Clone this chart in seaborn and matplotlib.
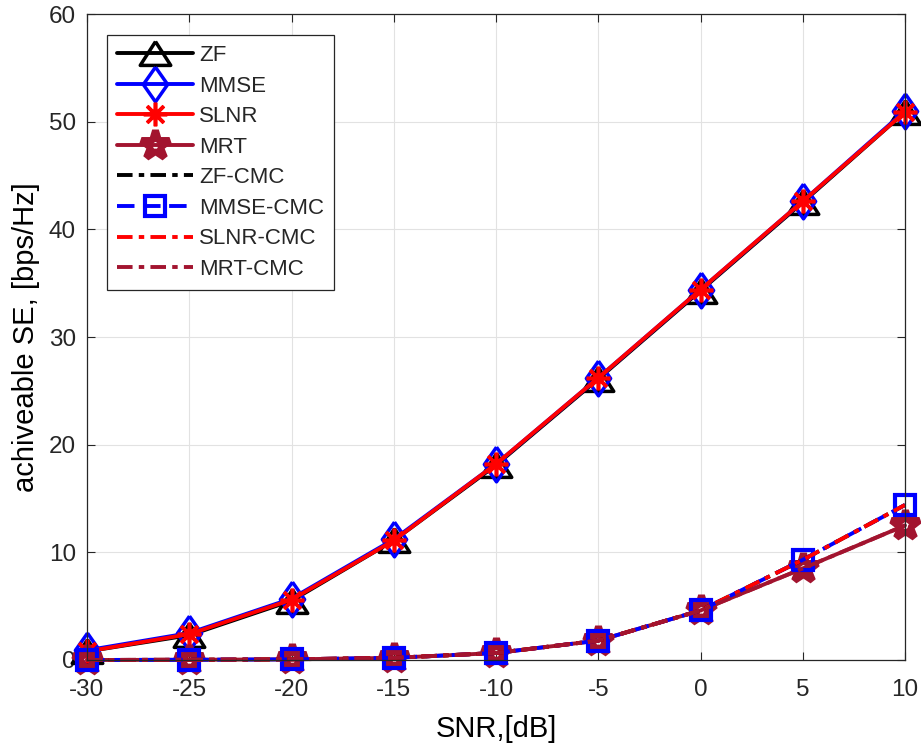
import matplotlib
matplotlib.use("Agg")
import matplotlib.pyplot as plt
import seaborn as sns

snr = [-30, -25, -20, -15, -10, -5, 0, 5, 10]

# Spectral efficiency, full CSI precoders
zf = [0.8, 2.3, 5.5, 11.1, 18.1, 26.1, 34.3, 42.5, 50.9]
mmse = [0.9, 2.5, 5.7, 11.2, 18.2, 26.2, 34.4, 42.6, 51.0]
slnr = [0.8, 2.4, 5.6, 11.1, 18.2, 26.2, 34.4, 42.6, 50.9]
mrt = [0.0, 0.02, 0.06, 0.2, 0.65, 1.8, 4.6, 8.5, 12.5]

# Spectral efficiency with CMC
zf_cmc = [0.0, 0.02, 0.06, 0.2, 0.65, 1.8, 4.6, 9.3, 14.4]
mmse_cmc = [0.0, 0.02, 0.06, 0.2, 0.65, 1.8, 4.6, 9.3, 14.4]
slnr_cmc = [0.0, 0.02, 0.06, 0.2, 0.65, 1.8, 4.6, 9.3, 14.4]
mrt_cmc = [0.0, 0.02, 0.06, 0.2, 0.65, 1.8, 4.6, 8.5, 12.5]

xticks = [-30, -25, -20, -15, -10, -5, 0, 5, 10]
yticks = [0, 10, 20, 30, 40, 50, 60]

sns.set_theme(style="whitegrid")
plt.rcParams["font.family"] = ["Liberation Sans", "DejaVu Sans"]
plt.rcParams["axes.unicode_minus"] = False

DARKRED = "#A2142F"
LW = 2.8
fig = plt.figure(figsize=(9.21, 7.45), dpi=100)
ax = fig.add_axes([87 / 921, 1 - 660 / 745, (905 - 87) / 921, (660 - 14) / 745])

asterisk = (8, 2, 0)
wide_triangle = [(0, 0.78), (1, -0.78), (-1, -0.78), (0, 0.78)]
tall_diamond = [(0, 1), (0.7, 0), (0, -1), (-0.7, 0), (0, 1)]
dashdot = (0, (4, 1.6, 1.4, 1.6))
dashed = (0, (4.5, 2.2))

series = [
    ("ZF", zf, "black", "-", wide_triangle, 22, 2.5),
    ("MMSE", mmse, "blue", "-", tall_diamond, 25, 2.5),
    ("SLNR", slnr, "red", "-", asterisk, 17, 2.6),
    ("MRT", mrt, DARKRED, "-", "*", 21, 5.0),
    ("ZF-CMC", zf_cmc, "black", dashdot, None, 0, 0),
    ("MMSE-CMC", mmse_cmc, "blue", dashed, "s", 14, 3.0),
    ("SLNR-CMC", slnr_cmc, "red", dashdot, None, 0, 0),
    ("MRT-CMC", mrt_cmc, DARKRED, dashdot, None, 0, 0),
]

for name, vals, col, ls, mk, ms, mew in series:
    kw = dict(marker=mk, markersize=ms, markerfacecolor="none",
              markeredgecolor=col, markeredgewidth=mew) if mk is not None else {}
    sns.lineplot(x=snr, y=vals, ax=ax, color=col, linestyle=ls, linewidth=LW,
                 label=name, clip_on=False, **kw)

ax.set_xlim(-30, 10)
ax.set_ylim(0, 60)
ax.set_xticks(xticks)
ax.set_yticks(yticks)
ax.tick_params(labelsize=17.5, colors="#262626", direction="in", length=6,
               width=0.8, top=True, right=True, bottom=True, left=True)
ax.tick_params(axis="x", pad=14)
ax.tick_params(axis="y", pad=8)
ax.grid(True, color="#E2E2E2", linewidth=0.8)
ax.set_facecolor("white")
for s in ax.spines.values():
    s.set_color("#262626")
    s.set_linewidth(0.9)
ax.set_xlabel("SNR,[dB]", fontsize=21, color="black", labelpad=10)
ax.set_ylabel("achiveable SE, [bps/Hz]", fontsize=21, color="black", labelpad=6)

leg = ax.legend(loc="upper left", bbox_to_anchor=(107 / 921, 1 - 35 / 745),
                bbox_transform=fig.transFigure, borderaxespad=0,
                fontsize=16, frameon=True, fancybox=False,
                edgecolor="#262626", framealpha=1, handlelength=3.4,
                handletextpad=0.3, borderpad=0.45, labelspacing=0.43)
leg.get_frame().set_linewidth(0.9)

fig.savefig("out.png", dpi=100)
